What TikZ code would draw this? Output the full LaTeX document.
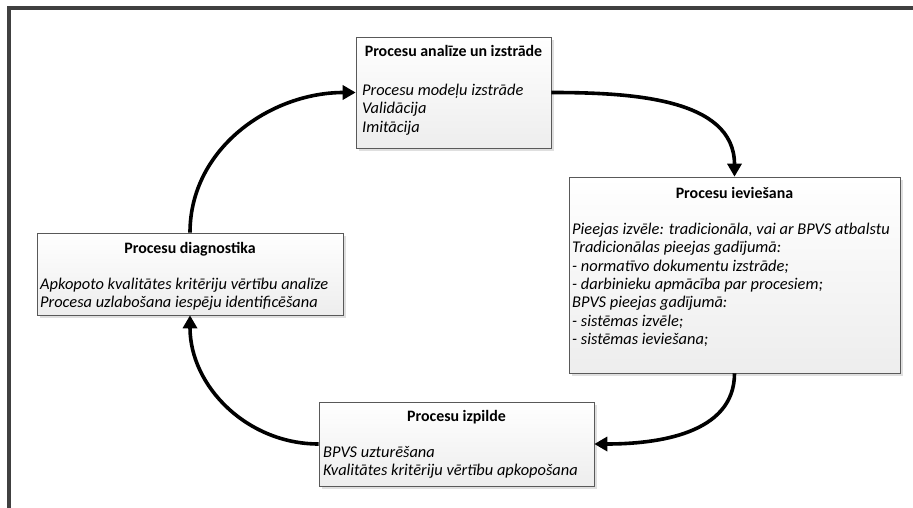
\documentclass[tikz,border=0pt]{standalone}
\usepackage{fontspec}
\setmainfont{Carlito}
\usetikzlibrary{arrows.meta, shadows, positioning}

\begin{document}
\begin{tikzpicture}[x=1pt, y=-1pt, font=\fontsize{16.4}{18.3}\selectfont]
            \tikzstyle{procbox} = [draw=black!65, line width=0.6pt, rectangle, top color=white, bottom color=black!7, inner sep=0pt, drop shadow={shadow xshift=3pt, shadow yshift=-3pt, fill=black!25, opacity=0.5}]
            \tikzstyle{boxtitle} = [anchor=base, inner sep=0pt, font=\fontsize{15.9}{18.3}\selectfont\bfseries]
            \tikzstyle{boxitems} = [anchor=north west, inner sep=0pt, align=left, font=\fontsize{16.4}{18.3}\selectfont\itshape]
            \tikzstyle{cycle} = [line width=3.6pt, -{Triangle[length=13pt, width=14pt]}]

            \useasboundingbox (0,0) rectangle (913,508);
            \draw[black!75, line width=4pt] (9,508) -- (9,8.5) -- (913,8.5);

            \node[procbox, minimum width=195pt, minimum height=111pt] (analize) at (453.5, 92.5) {};
            \node[procbox, minimum width=331pt, minimum height=196pt] (ieviesana) at (734.5, 275) {};
            \node[procbox, minimum width=306pt, minimum height=82pt] (diagnostika) at (190, 274) {};
            \node[procbox, minimum width=275pt, minimum height=84pt] (izpilde) at (456.5, 444) {};

            \node[boxtitle] (analizeT) at (453.5, 57) {Procesu analīze un izstrāde};
            \node[boxitems] (analizeI) at (362, 84) {Procesu modeļu izstrāde\\Validācija\\Imitācija};

            \node[boxtitle] (ieviesanaT) at (734.5, 198) {Procesu ieviešana};
            \node[boxitems] (ieviesanaI) at (572, 223) {Pieejas izvēle: tradicionāla, vai ar BPVS atbalstu\\Tradicionālas pieejas gadījumā:\\- normatīvo dokumentu izstrāde;\\- darbinieku apmācība par procesiem;\\BPVS pieejas gadījumā:\\- sistēmas izvēle;\\- sistēmas ieviešana;};

            \node[boxtitle] (diagnostikaT) at (190, 253) {Procesu diagnostika};
            \node[boxitems] (diagnostikaI) at (40, 278) {Apkopoto kvalitātes kritēriju vērtību analīze\\Procesa uzlabošana iespēju identificēšana};

            \node[boxtitle] (izpildeT) at (456.5, 421) {Procesu izpilde};
            \node[boxitems] (izpildeI) at (323, 446) {BPVS uzturēšana\\Kvalitātes kritēriju vērtību apkopošana};

            \draw[cycle] (diagnostika.north) to[out=90, in=180] (analize.west);
            \draw[cycle] (analize.east) to[out=0, in=90] (ieviesana.north);
            \draw[cycle] (ieviesana.south) to[out=270, in=0] (izpilde.east);
            \draw[cycle] (izpilde.west) to[out=180, in=270] (diagnostika.south);
        \end{tikzpicture}
\end{document}
